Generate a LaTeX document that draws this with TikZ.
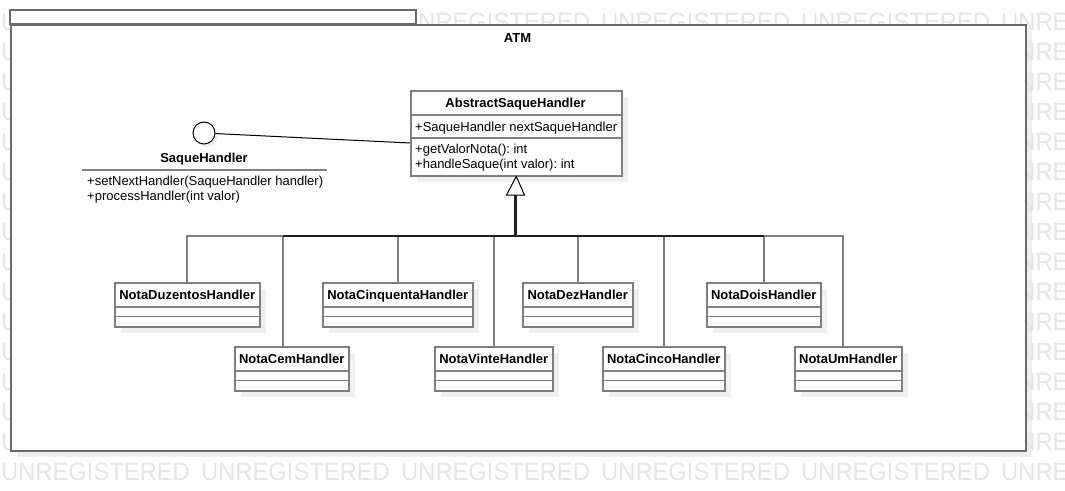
\documentclass[tikz,border=0pt]{standalone}
\usepackage{fontspec}
\setmainfont{Liberation Sans}
\frenchspacing
\usetikzlibrary{calc}
\pgfdeclarelayer{wm}\pgfdeclarelayer{pkg}\pgfdeclarelayer{shd}
\pgfsetlayers{wm,pkg,shd,main}
\definecolor{shadowc}{HTML}{EFEFEF}
\definecolor{wmc}{HTML}{E6E6E6}
\definecolor{linec}{HTML}{7F7F7F}
\definecolor{pkgc}{HTML}{6A6A6A}
\definecolor{trunkc}{HTML}{202020}
\tikzset{
  every node/.style={font=\fontsize{13}{15}\selectfont, inner sep=0pt},
  clsbox/.style={draw=linec, line width=1.5pt, fill=white, anchor=north west},
  clsname/.style={font=\fontsize{13}{15}\selectfont\bfseries, anchor=base},
  member/.style={anchor=base west},
  sepline/.style={draw=linec, line width=1.5pt},
  gen/.style={draw=linec, line width=1.6pt},
  trunk/.style={draw=trunkc, line width=1.8pt},
  wmtext/.style={text=wmc, font=\fontsize{25}{25}\selectfont, anchor=base west},
}
\newcommand\childcls[5]{%
  \begin{pgfonlayer}{shd}
    \fill[shadowc] (#2+7,#3+7) rectangle (#2+#4+7,#3+51);
  \end{pgfonlayer}
  \node[clsbox, minimum width=#4pt, minimum height=44pt] (#1) at (#2,#3) {};
  \node[clsname] (#1-t) at ($(#1.north)+(0,17)$) {#5};
  \draw[sepline] ($(#1.north west)+(0,25)$) -- ($(#1.north east)+(0,25)$);
  \draw[sepline] ($(#1.north west)+(0,34.5)$) -- ($(#1.north east)+(0,34.5)$);
}
\newcommand\wmword{\scalebox{0.95}[1]{UNREGISTERED}}
\begin{document}
\begin{tikzpicture}[x=1pt,y=-1pt]
\useasboundingbox (0,0) rectangle (1065,490);
% background, package shadow and visible watermark
\begin{pgfonlayer}{wm}
  \fill[white] (0,0) rectangle (1065,490);
  \fill[shadowc] (17,31) rectangle (1032,457);
  \begin{scope}
    \clip (0,0) rectangle (1065,490);
    % top row, right of the tab
    \foreach \i in {2,...,5}{
      \node[wmtext] (wmt-\i) at (200*\i+1, 30) {\wmword};
    }
    % left and right strips
    \foreach \j in {0,...,14}{
      \node[wmtext] (wml-\j) at (1, 30+30*\j) {\scalebox{0.95}[1]{U}};
    }
    \foreach \j in {1,...,14}{
      \node[wmtext] (wmr-\j) at (1001, 30+30*\j) {\scalebox{0.95}[1]{UNRE}};
    }
    % bottom row
    \foreach \i in {0,...,5}{
      \node[wmtext] (wmb-\i) at (200*\i+1, 480) {\wmword};
    }
  \end{scope}
\end{pgfonlayer}
% package
\begin{pgfonlayer}{pkg}
  \draw[pkgc, line width=1.5pt, fill=white] (10,10) rectangle (416,24);
  \node[draw=pkgc, line width=1.5pt, fill=white, anchor=north west,
        minimum width=1015pt, minimum height=426pt] (atm) at (10,24) {};
  \node[clsname] (atm-t) at (517.5,42) {ATM};
\end{pgfonlayer}
% abstract class
\begin{pgfonlayer}{shd}
  \fill[shadowc] (417,97) rectangle (628,182);
  \fill[shadowc] (207,136) circle (11);
\end{pgfonlayer}
\node[clsbox, minimum width=211pt, minimum height=85pt] (abs) at (410,90) {};
\node[clsname] (abs-t) at (515.5,107) {AbstractSaqueHandler};
\draw[sepline] ($(abs.north west)+(0,25)$) -- ($(abs.north east)+(0,25)$);
\draw[sepline] ($(abs.north west)+(0,48)$) -- ($(abs.north east)+(0,48)$);
\node[member] (abs-a) at (415,131) {+SaqueHandler nextSaqueHandler};
\node[member] (abs-o1) at (415,153) {+getValorNota(): int};
\node[member] (abs-o2) at (415,168) {+handleSaque(int valor): int};
% interface (lollipop)
\node[circle, draw=black, line width=1pt, fill=white, minimum size=22pt] (lol) at (204,133) {};
\coordinate (lolend) at (410,143);
\draw[black, line width=1pt] (lol) -- (lolend);
\node[clsname] (sh-t) at (204,162) {SaqueHandler};
\draw[sepline] (82,170) -- (327,170);
\node[member] (sh-o1) at (87,185) {+setNextHandler(SaqueHandler handler)};
\node[member] (sh-o2) at (87,200) {+processHandler(int valor)};
% children
\childcls{duz}{114}{282}{145}{NotaDuzentosHandler}
\childcls{cem}{234}{346}{114}{NotaCemHandler}
\childcls{cinq}{322}{282}{150}{NotaCinquentaHandler}
\childcls{vinte}{434}{346}{118}{NotaVinteHandler}
\childcls{dez}{522}{282}{110}{NotaDezHandler}
\childcls{cinco}{602}{346}{122}{NotaCincoHandler}
\childcls{dois}{706}{282}{114}{NotaDoisHandler}
\childcls{um}{794}{346}{107}{NotaUmHandler}
% generalization
\coordinate (tri) at (515.5,195);
\coordinate (bus) at (515.5,236);
\foreach \c/\s in {duz/0, cem/-9, cinq/0, vinte/0, dez/0, cinco/0, dois/0, um/-5.5}{
  \draw[gen] ([xshift=\s pt]\c.north) |- (bus) -- (tri);
}
% shared trunk, where the connectors run together
\draw[trunk] ([xshift=-9pt]cem.north |- bus) -- (dois.north |- bus);
\draw[trunk, line width=2.2pt] (bus) -- (tri);
\draw[black, line width=1pt, fill=white] (abs.south) -- ([xshift=-9pt]tri) -- ([xshift=9pt]tri) -- cycle;
\end{tikzpicture}
\end{document}
